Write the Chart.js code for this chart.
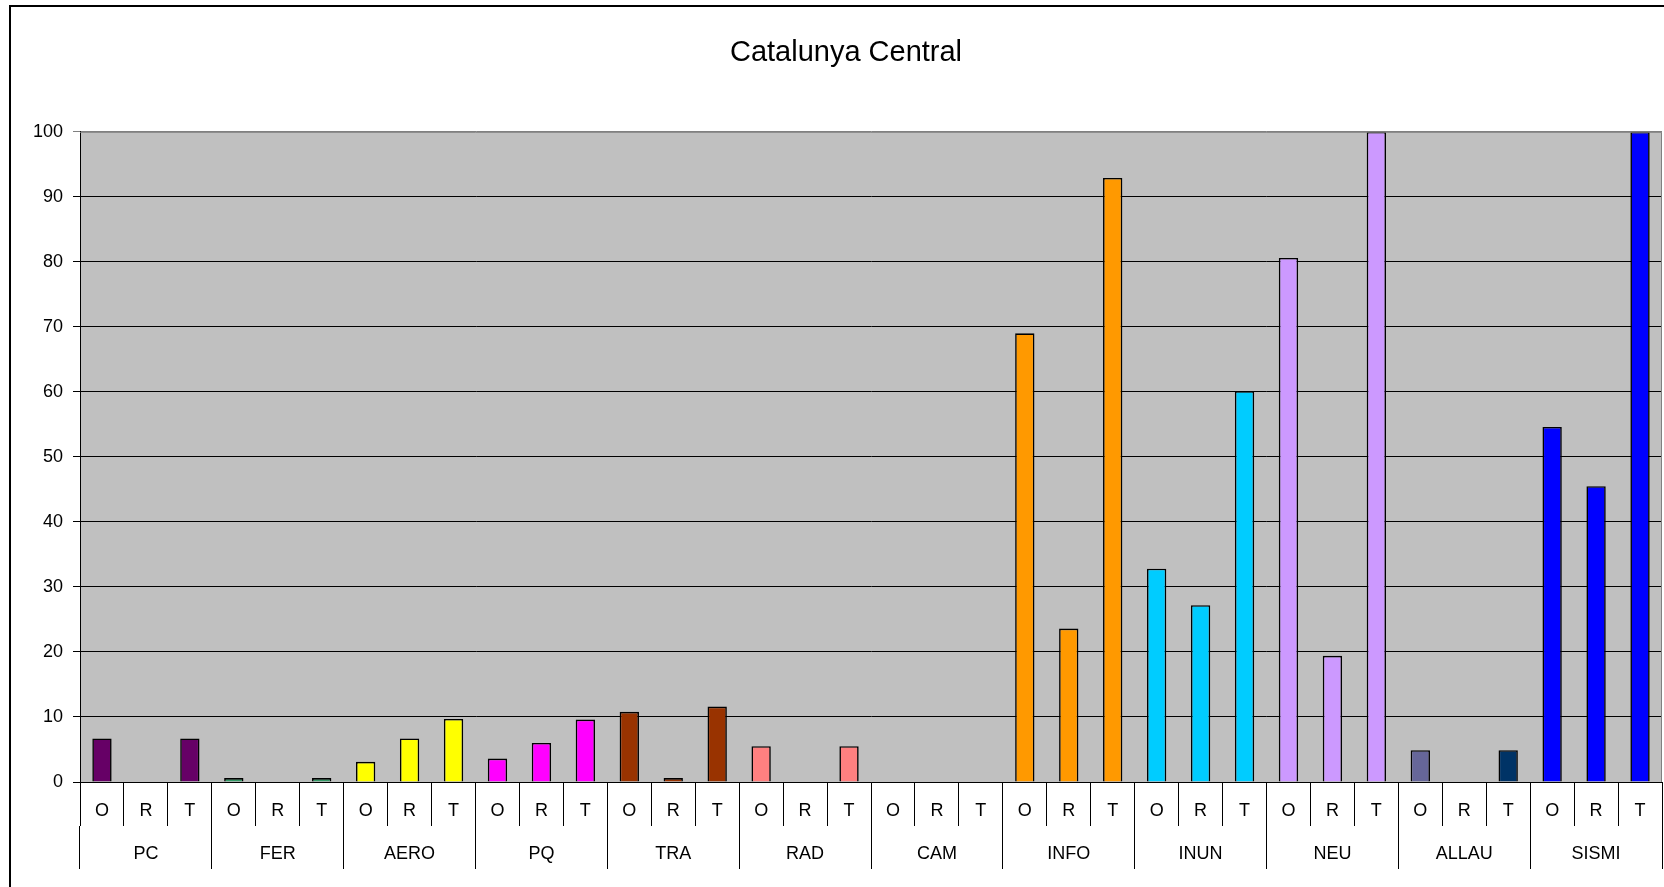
<!DOCTYPE html>
<html>
<head>
<meta charset="utf-8">
<script src="https://cdn.jsdelivr.net/npm/chart.js@4.4.0/dist/chart.umd.min.js"></script>
<style>
  html, body { margin: 0; padding: 0; background: #ffffff; overflow: hidden; }
  #wrap { width: 1664px; height: 887px; }
</style>
</head>
<body>
<div id="wrap"><canvas id="c" width="1664" height="887"></canvas></div>
<script>
// ---- data ----
const chartTitle = 'Catalunya Central';
const groups = ['PC', 'FER', 'AERO', 'PQ', 'TRA', 'RAD', 'CAM', 'INFO', 'INUN', 'NEU', 'ALLAU', 'SISMI'];
const subLabels = ['O', 'R', 'T'];
const valuesO = [6.7, 0.6, 3.1, 3.6, 10.8, 5.5, 0, 69.0, 32.8, 80.6, 4.9, 54.6];
const valuesR = [0, 0, 6.7, 6.0, 0.6, 0, 0, 23.6, 27.2, 19.4, 0, 45.5];
const valuesT = [6.7, 0.6, 9.7, 9.6, 11.6, 5.5, 0, 92.9, 60.1, 100, 4.9, 100];
const yMin = 0, yMax = 100, yStep = 10;

// ---- styles ----
const colorsO = ['#660066', '#339966', '#FFFF00', '#FF00FF', '#993300', '#FF8080', '#C0C0C0', '#FF9900', '#00CCFF', '#CC99FF', '#666699', '#0000FF'];
const colorsR = ['#660066', '#339966', '#FFFF00', '#FF00FF', '#993300', '#FF8080', '#C0C0C0', '#FF9900', '#00CCFF', '#CC99FF', '#666699', '#0000FF'];
const colorsT = ['#660066', '#339966', '#FFFF00', '#FF00FF', '#993300', '#FF8080', '#C0C0C0', '#FF9900', '#00CCFF', '#CC99FF', '#003366', '#0000FF'];
const FONT = "'Liberation Sans', Arial, sans-serif";

// ---- build library structures ----
const labels = [], data = [], colors = [];
groups.forEach((g, i) => {
  const vals = [valuesO[i], valuesR[i], valuesT[i]];
  const cols = [colorsO[i], colorsR[i], colorsT[i]];
  subLabels.forEach((s, j) => { labels.push(s); data.push(vals[j]); colors.push(cols[j]); });
});

const framePlugin = {
  id: 'frame',
  beforeDraw(chart) {
    const ctx = chart.ctx, a = chart.chartArea;
    ctx.save();
    ctx.fillStyle = '#ffffff';
    ctx.fillRect(0, 0, chart.width, chart.height);
    // outer chart border (left + top visible)
    ctx.strokeStyle = '#000000';
    ctx.lineWidth = 2;
    ctx.strokeRect(10, 6, chart.width + 20, chart.height + 20);
    // plot area
    ctx.fillStyle = '#C0C0C0';
    ctx.fillRect(a.left, a.top, a.right - a.left, a.bottom - a.top);
    ctx.restore();
  },
  afterDatasetsDraw(chart) {
    const ctx = chart.ctx, a = chart.chartArea;
    ctx.save();
    ctx.strokeStyle = '#808080';
    ctx.lineWidth = 1;
    ctx.beginPath();
    ctx.moveTo(a.left, a.top + 0.5);
    ctx.lineTo(a.right - 0.5, a.top + 0.5);
    ctx.lineTo(a.right - 0.5, a.bottom);
    ctx.stroke();
    ctx.restore();
  }
};

new Chart(document.getElementById('c'), {
  type: 'bar',
  data: {
    labels: labels,
    datasets: [{
      data: data,
      backgroundColor: colors,
      borderColor: '#000000',
      borderWidth: 1.6,
      borderSkipped: 'bottom',
      barPercentage: 0.44,
      categoryPercentage: 1.0
    }]
  },
  options: {
    responsive: false,
    animation: false,
    events: [],
    layout: { padding: { left: 30, right: 2, top: 0, bottom: 18 } },
    plugins: {
      legend: { display: false },
      tooltip: { enabled: false },
      title: {
        display: true,
        text: chartTitle,
        color: '#000000',
        font: { family: FONT, size: 29, weight: 'normal' },
        padding: { top: 36, bottom: 61 }
      }
    },
    scales: {
      x: {
        type: 'category',
        position: 'bottom',
        weight: 0,
        offset: true,
        grid: { offset: true, drawOnChartArea: false, drawTicks: true, tickLength: 44, color: '#000000', lineWidth: 1 },
        border: { display: true, color: '#000000', width: 1 },
        ticks: { color: '#000000', font: { family: FONT, size: 18 }, padding: -26, maxRotation: 0, autoSkip: false },
        afterFit: (s) => { s.height = 44; }
      },
      x2: {
        type: 'category',
        position: 'bottom',
        weight: 1,
        labels: groups,
        offset: true,
        grid: { offset: true, drawOnChartArea: false, drawTicks: true, tickLength: 43, color: '#000000', lineWidth: 1 },
        border: { display: false },
        ticks: { color: '#000000', font: { family: FONT, size: 18 }, padding: -26, maxRotation: 0, autoSkip: false },
        afterFit: (s) => { s.height = 43; }
      },
      y: {
        min: yMin,
        max: yMax,
        grid: {
          color: (ctx) => (ctx.tick && ctx.tick.value === yMax) ? '#808080' : '#000000',
          lineWidth: 1,
          tickLength: 7,
          drawTicks: true
        },
        border: { display: true, color: '#000000', width: 1 },
        ticks: { stepSize: yStep, color: '#000000', font: { family: FONT, size: 18 }, padding: 10 },
        afterFit: (s) => { s.width = 50; }
      }
    }
  },
  plugins: [framePlugin]
});
</script>
</body>
</html>
